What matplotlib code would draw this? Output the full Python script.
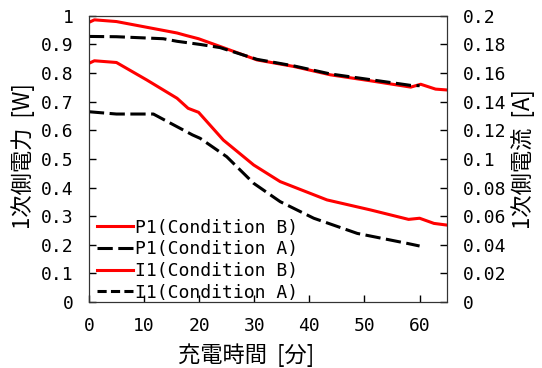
import matplotlib
matplotlib.use('Agg')
import matplotlib.pyplot as plt
from matplotlib.lines import Line2D

# Dados
t_p1_b = [0, 1, 5, 10.5, 16, 17.7, 19.9, 23.8, 30.5, 37.2, 43.8, 51.1, 58.4, 60.2, 62.9, 65]
p1_b = [0.977, 0.986, 0.980, 0.960, 0.940, 0.931, 0.920, 0.893, 0.846, 0.823, 0.794, 0.773, 0.751, 0.761, 0.744, 0.741]

t_p1_a = [0, 5, 13.5, 16, 20.2, 23.8, 30.5, 37.2, 43.8, 51.1, 58.4, 60]
p1_a = [0.928, 0.927, 0.920, 0.911, 0.900, 0.889, 0.848, 0.825, 0.797, 0.777, 0.757, 0.756]

t_i1_b = [0, 1, 5, 10.5, 16, 18, 19.9, 24.4, 29.9, 34.7, 43.2, 51.1, 58, 60, 62.6, 65]
i1_b = [0.1668, 0.1686, 0.1674, 0.1552, 0.1424, 0.1354, 0.1326, 0.1132, 0.0958, 0.0842, 0.0714, 0.0644, 0.0578, 0.0586, 0.0550, 0.0538]

t_i1_a = [0, 5, 11.7, 14.8, 18.8, 20.2, 25, 29.9, 34.7, 40.8, 48.7, 57.8, 60]
i1_a = [0.1330, 0.1314, 0.1314, 0.1250, 0.1168, 0.1144, 0.1016, 0.0830, 0.0702, 0.0586, 0.0480, 0.0410, 0.0392]

rotulos = ['P1(Condition B)', 'P1(Condition A)', 'I1(Condition B)', 'I1(Condition A)']

fonte_cjk = ['Noto Sans CJK JP', 'DejaVu Sans']
plt.rcParams.update({'font.family': 'DejaVu Sans Mono', 'font.size': 13,
                     'xtick.direction': 'in', 'ytick.direction': 'in'})

tracejado = (0, (5, 1.8))
tracejado_curto = (0, (3, 1.4))

fig = plt.figure(figsize=(5.42, 3.68), dpi=100)
ax = fig.add_axes([0.164, 0.179, 0.661, 0.778])
ax2 = ax.twinx()

ax.plot(t_p1_b, p1_b, color='#ff0000', lw=2.2)
ax.plot(t_p1_a, p1_a, color='black', lw=2.2, linestyle=tracejado)
ax2.plot(t_i1_b, i1_b, color='#ff0000', lw=2.2)
ax2.plot(t_i1_a, i1_a, color='black', lw=2.2, linestyle=tracejado)

ax.set_xlim(0, 65)
ax.set_ylim(0, 1)
ax2.set_ylim(0, 0.2)
ax.set_xticks(range(0, 61, 10))
ax.set_yticks([i / 10 for i in range(11)])
ax.set_yticklabels(['0', '0.1', '0.2', '0.3', '0.4', '0.5', '0.6', '0.7', '0.8', '0.9', '1'])
ax2.set_yticks([i / 50 for i in range(11)])
ax2.set_yticklabels(['0', '0.02', '0.04', '0.06', '0.08', '0.1', '0.12', '0.14', '0.16', '0.18', '0.2'])

for a in (ax, ax2):
    a.tick_params(length=5, width=1, labelsize=13, pad=11)
    for s in a.spines.values():
        s.set_color('#333333')

ax.set_xlabel('充電時間  [分]', family=fonte_cjk, fontsize=16, va='center')
ax.xaxis.set_label_coords(0.44, -0.185)
ax.set_ylabel('1次側電力  [W]', family=fonte_cjk, fontsize=16, va='center')
ax.yaxis.set_label_coords(-0.184, 0.51)
ax2.set_ylabel('1次側電流  [A]', family=fonte_cjk, fontsize=16, va='center')
ax2.yaxis.set_label_coords(1.212, 0.5)

handles = [Line2D([], [], color='#ff0000', lw=2.2),
           Line2D([], [], color='black', lw=2.2, linestyle=tracejado),
           Line2D([], [], color='#ff0000', lw=2.2),
           Line2D([], [], color='black', lw=2.2, linestyle=tracejado_curto)]
ax2.legend(handles, rotulos, loc='lower left', bbox_to_anchor=(0.022, 0.002),
           frameon=False, fontsize=13, handlelength=2.0, handletextpad=0.1,
           labelspacing=0.2, borderaxespad=0, borderpad=0)

plt.savefig('out.png', dpi=100)
